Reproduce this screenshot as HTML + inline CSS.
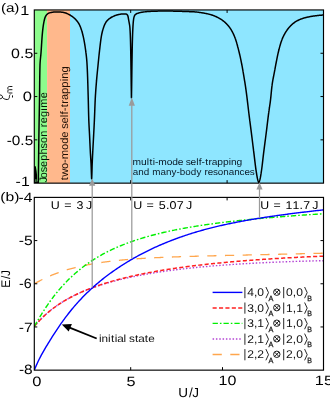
<!DOCTYPE html>
<html><head><meta charset="utf-8"><title>fig</title>
<style>html,body{margin:0;padding:0;background:#fff}svg{display:block;will-change:transform}text{font-family:"Liberation Sans",sans-serif;text-rendering:geometricPrecision}</style></head>
<body>
<svg width="330" height="400" viewBox="0 0 330 400">
<rect width="330" height="400" fill="#fff"/>
<rect x="34.3" y="9.95" width="12.8" height="173.2" fill="#8dfc8d"/>
<rect x="47.1" y="9.95" width="22.9" height="173.2" fill="#ffb88c"/>
<rect x="70" y="9.95" width="253.5" height="173.2" fill="#8ee6ff"/>
<text transform="translate(47,181.8) rotate(-90) scale(1.0087,1)" x="-0.72 3.46 9.36 14.68 20.86 27.13 33.14 38.44 44.6 50.81 54.12 57.99 64.17 70.48 73.37 82.73" font-size="10.8" fill="#061806">Josephson regime</text>
<text transform="translate(67.6,180.3) rotate(-90) scale(1.0395,1)" x="0.08 3.37 10.98 16.75 20.32 29.26 35.12 40.99 46.87 49.61 54.65 60.64 63.3 66.35 70.19 73.66 77.27 83.12 89.09 95.18 97.65 103.61" font-size="10.8" fill="#1e0e04">two-mode self-trapping</text>
<text transform="translate(0,164.7) scale(1.1003,1)" x="120.46 128.2 133.41 135.84 138.79 140.83 143.87 151.52 156.52 161.54 166.58 168.91 173.21 178.34 180.61 183.22 186.5 189.46 192.54 197.54 202.64 207.85 209.96 215.05" font-size="9.3" fill="#081a28">multi-mode self-trapping</text>
<text transform="translate(0,175.4) scale(1.0602,1)" x="125.18 130.33 135.57 140.8 143.55 151.4 156.55 161.87 166.59 169.66 174.81 179.96 185.29 190.08 192.84 196.04 201 205.42 210.56 215.71 220.87 226.02 230.57 235.52" font-size="9.3" fill="#081a28">and many-body resonances</text>
<path d="M34.3,183 L34.3,166.2 L35.8,166.2 L36.6,171 L37.05,175 L37.05,181.5 L38.2,181.5 L38.2,183 Z" fill="#000"/>
<rect x="35.4" y="179.2" width="1.0" height="2.8" fill="#8dfc8d" opacity="0.7"/>
<path d="M38.3,183 L38.31,182.5 L38.31,182 L38.32,181.5 L38.33,181 L38.33,180.5 L38.34,180 L38.35,179.5 L38.35,179 L38.36,178.5 L38.37,178 L38.37,177.5 L38.38,177 L38.39,176.5 L38.39,176 L38.4,175.5 L38.41,175 L38.41,174.5 L38.42,174 L38.43,173.5 L38.43,173 L38.44,172.5 L38.45,172 L38.45,171.5 L38.46,171 L38.47,170.5 L38.47,170 L38.48,169.5 L38.49,169 L38.49,168.5 L38.5,168 L38.5,167.5 L38.51,167 L38.52,166.5 L38.52,166 L38.53,165.5 L38.54,165 L38.54,164.5 L38.55,164 L38.56,163.5 L38.56,163 L38.57,162.5 L38.57,162 L38.58,161.5 L38.59,161 L38.59,160.5 L38.6,160 L38.6,160 L38.61,159.5 L38.61,159 L38.62,158.5 L38.62,158 L38.63,157.5 L38.64,157 L38.64,156.5 L38.65,156 L38.65,155.5 L38.66,155 L38.67,154.5 L38.67,154 L38.68,153.5 L38.68,153 L38.69,152.5 L38.69,152 L38.7,151.5 L38.71,151 L38.71,150.5 L38.72,150 L38.72,149.5 L38.73,149 L38.73,148.5 L38.74,148 L38.75,147.5 L38.75,147 L38.76,146.5 L38.76,146 L38.77,145.5 L38.77,145 L38.78,144.5 L38.79,144 L38.79,143.5 L38.8,143 L38.8,142.5 L38.81,142 L38.82,141.5 L38.82,141 L38.83,140.5 L38.83,140 L38.84,139.5 L38.85,139 L38.85,138.5 L38.86,138 L38.87,137.5 L38.87,137 L38.88,136.5 L38.89,136 L38.89,135.5 L38.9,135 L38.9,135 L38.91,134.5 L38.91,134 L38.92,133.5 L38.93,133 L38.94,132.5 L38.94,132 L38.95,131.5 L38.96,131 L38.97,130.5 L38.97,130 L38.98,129.5 L38.99,129 L39,128.5 L39.01,128 L39.02,127.5 L39.02,127 L39.03,126.5 L39.04,126 L39.05,125.5 L39.06,125.01 L39.07,124.51 L39.08,124.01 L39.08,123.51 L39.09,123.01 L39.1,122.51 L39.11,122.01 L39.12,121.51 L39.13,121.01 L39.14,120.51 L39.15,120.01 L39.16,119.51 L39.17,119.01 L39.17,118.51 L39.18,118.01 L39.19,117.51 L39.2,117.01 L39.21,116.51 L39.22,116.01 L39.23,115.51 L39.24,115.01 L39.25,114.51 L39.26,114.01 L39.27,113.51 L39.28,113.01 L39.28,112.51 L39.29,112.01 L39.3,111.51 L39.31,111.01 L39.32,110.51 L39.33,110.01 L39.34,109.51 L39.35,109.01 L39.36,108.51 L39.37,108.01 L39.37,107.51 L39.38,107.01 L39.39,106.51 L39.4,106.01 L39.41,105.51 L39.42,105.01 L39.43,104.51 L39.43,104.01 L39.44,103.51 L39.45,103.01 L39.46,102.51 L39.47,102.01 L39.48,101.51 L39.48,101.01 L39.49,100.51 L39.5,100.01 L39.5,100 L39.51,99.51 L39.52,99.01 L39.52,98.51 L39.53,98.01 L39.54,97.51 L39.54,97.01 L39.55,96.51 L39.56,96.01 L39.56,95.51 L39.57,95.01 L39.57,94.51 L39.58,94.01 L39.59,93.51 L39.59,93.01 L39.6,92.51 L39.6,92.01 L39.61,91.51 L39.61,91.01 L39.62,90.51 L39.62,90.01 L39.63,89.51 L39.63,89.01 L39.64,88.51 L39.64,88 L39.65,87.5 L39.65,87 L39.66,86.5 L39.66,86 L39.67,85.5 L39.67,85 L39.68,84.5 L39.68,84 L39.69,83.5 L39.69,83 L39.7,82.5 L39.7,82 L39.71,81.5 L39.71,81 L39.72,80.5 L39.73,80 L39.73,79.5 L39.74,79 L39.74,78.5 L39.75,78 L39.76,77.5 L39.76,77 L39.77,76.5 L39.78,76 L39.78,75.5 L39.79,75 L39.8,74.5 L39.81,74 L39.82,73.5 L39.82,73 L39.83,72.5 L39.84,72 L39.85,71.5 L39.86,71 L39.87,70.5 L39.88,70 L39.89,69.51 L39.9,69.01 L39.91,68.51 L39.92,68.01 L39.94,67.51 L39.95,67.01 L39.96,66.51 L39.97,66.01 L39.99,65.51 L40,65.01 L40,65 L40.02,64.51 L40.04,64.01 L40.06,63.52 L40.09,63.02 L40.12,62.52 L40.16,62.02 L40.2,61.52 L40.24,61.02 L40.28,60.53 L40.32,60.03 L40.37,59.53 L40.42,59.03 L40.47,58.53 L40.52,58.04 L40.57,57.54 L40.62,57.04 L40.67,56.54 L40.72,56.04 L40.77,55.55 L40.82,55.05 L40.87,54.55 L40.91,54.05 L40.96,53.55 L41,53.05 L41,53 L41.03,52.56 L41.07,52.06 L41.11,51.56 L41.15,51.06 L41.18,50.56 L41.22,50.06 L41.25,49.56 L41.28,49.06 L41.32,48.56 L41.35,48.06 L41.38,47.56 L41.41,47.06 L41.45,46.56 L41.48,46.07 L41.51,45.57 L41.54,45.07 L41.57,44.57 L41.6,44.07 L41.63,43.57 L41.67,43.07 L41.7,42.57 L41.73,42.07 L41.76,41.57 L41.79,41.07 L41.83,40.57 L41.86,40.07 L41.89,39.57 L41.93,39.07 L41.96,38.57 L42,38.08 L42.04,37.58 L42.07,37.08 L42.11,36.58 L42.15,36.08 L42.19,35.58 L42.23,35.09 L42.28,34.59 L42.32,34.09 L42.36,33.6 L42.41,33.1 L42.46,32.6 L42.51,32.11 L42.56,31.61 L42.6,31.2 L42.61,31.11 L42.66,30.62 L42.72,30.12 L42.77,29.62 L42.83,29.12 L42.89,28.62 L42.95,28.12 L43.01,27.62 L43.08,27.12 L43.15,26.62 L43.22,26.12 L43.29,25.62 L43.36,25.12 L43.44,24.62 L43.52,24.13 L43.61,23.63 L43.7,23.14 L43.79,22.65 L43.88,22.16 L43.98,21.67 L44.08,21.18 L44.19,20.7 L44.3,20.22 L44.41,19.74 L44.53,19.26 L44.6,19 L44.66,18.79 L44.8,18.3 L44.96,17.82 L45.14,17.33 L45.34,16.85 L45.56,16.39 L45.79,15.95 L46.04,15.54 L46.2,15.3 L46.31,15.16 L46.62,14.78 L46.98,14.4 L47.37,14.04 L47.78,13.72 L48.21,13.43 L48.65,13.2 L48.9,13.1 L49.08,13.04 L49.53,12.89 L50,12.75 L50.48,12.62 L50.98,12.5 L51.48,12.4 L51.99,12.31 L52.5,12.23 L53.01,12.17 L53.51,12.12 L53.9,12.1 L54.01,12.1 L54.51,12.08 L55.01,12.06 L55.51,12.04 L56.01,12.03 L56.51,12.02 L57.01,12.01 L57.51,12 L58,12 L58.01,12 L58.51,12 L59.01,12.02 L59.51,12.03 L60.01,12.06 L60.51,12.09 L61.01,12.12 L61.51,12.16 L62,12.2 L62.01,12.2 L62.5,12.25 L63,12.33 L63.49,12.43 L63.98,12.54 L64.47,12.66 L64.95,12.79 L65,12.8 L65.42,12.92 L65.9,13.08 L66.37,13.25 L66.84,13.44 L67.3,13.64 L67.76,13.85 L68.22,14.07 L68.67,14.3 L69.11,14.53 L69.54,14.77 L69.6,14.8 L69.97,15.01 L70.39,15.26 L70.82,15.52 L71.24,15.8 L71.66,16.08 L72.08,16.37 L72.49,16.67 L72.9,16.98 L73.3,17.3 L73.69,17.62 L74.07,17.95 L74.45,18.28 L74.81,18.62 L75.17,18.96 L75.51,19.31 L75.6,19.4 L75.85,19.66 L76.18,20.03 L76.51,20.4 L76.83,20.79 L77.15,21.18 L77.46,21.59 L77.76,22 L78.05,22.42 L78.33,22.84 L78.6,23.27 L78.86,23.7 L79.11,24.13 L79.33,24.57 L79.4,24.7 L79.55,25 L79.76,25.45 L79.96,25.9 L80.15,26.35 L80.35,26.81 L80.53,27.27 L80.71,27.74 L80.89,28.21 L81.06,28.69 L81.22,29.17 L81.38,29.65 L81.54,30.13 L81.69,30.62 L81.83,31.1 L81.98,31.58 L82.11,32.07 L82.25,32.55 L82.38,33.04 L82.5,33.5 L82.5,33.52 L82.63,34 L82.75,34.48 L82.87,34.96 L82.99,35.45 L83.1,35.93 L83.21,36.42 L83.32,36.91 L83.43,37.4 L83.54,37.88 L83.65,38.37 L83.75,38.87 L83.85,39.36 L83.95,39.85 L84.04,40.34 L84.14,40.83 L84.23,41.33 L84.32,41.82 L84.41,42.31 L84.5,42.81 L84.58,43.3 L84.67,43.8 L84.75,44.29 L84.83,44.78 L84.9,45.28 L84.98,45.77 L85.05,46.27 L85.1,46.6 L85.12,46.76 L85.19,47.25 L85.26,47.75 L85.33,48.24 L85.4,48.74 L85.47,49.23 L85.54,49.73 L85.61,50.22 L85.68,50.72 L85.74,51.21 L85.81,51.71 L85.87,52.21 L85.94,52.7 L86,53.2 L86.06,53.7 L86.12,54.19 L86.18,54.69 L86.24,55.19 L86.3,55.69 L86.35,56.18 L86.41,56.68 L86.46,57.18 L86.51,57.68 L86.56,58.18 L86.61,58.67 L86.66,59.17 L86.7,59.67 L86.74,60.17 L86.79,60.67 L86.83,61.17 L86.86,61.66 L86.9,62.16 L86.94,62.66 L86.97,63.16 L87,63.66 L87,63.7 L87.03,64.16 L87.05,64.65 L87.08,65.15 L87.11,65.65 L87.14,66.15 L87.16,66.65 L87.19,67.15 L87.21,67.65 L87.24,68.14 L87.26,68.64 L87.28,69.14 L87.31,69.64 L87.33,70.14 L87.35,70.64 L87.37,71.14 L87.4,71.64 L87.42,72.14 L87.44,72.64 L87.46,73.14 L87.48,73.64 L87.5,74.14 L87.52,74.64 L87.54,75.14 L87.55,75.63 L87.57,76.13 L87.59,76.63 L87.61,77.13 L87.63,77.63 L87.64,78.13 L87.66,78.63 L87.68,79.13 L87.69,79.63 L87.71,80.13 L87.73,80.63 L87.74,81.13 L87.76,81.63 L87.77,82.13 L87.79,82.63 L87.8,83.13 L87.82,83.64 L87.83,84.14 L87.85,84.64 L87.86,85.14 L87.88,85.64 L87.89,86.14 L87.91,86.64 L87.92,87.14 L87.94,87.64 L87.95,88.14 L87.96,88.64 L87.98,89.14 L87.99,89.64 L88.01,90.14 L88.02,90.64 L88.04,91.14 L88.05,91.64 L88.07,92.14 L88.08,92.64 L88.09,93.14 L88.11,93.64 L88.12,94.14 L88.14,94.64 L88.15,95 L88.15,95.14 L88.17,95.64 L88.18,96.14 L88.2,96.64 L88.21,97.14 L88.23,97.63 L88.24,98.13 L88.25,98.63 L88.26,99.13 L88.28,99.63 L88.29,100.13 L88.3,100.63 L88.31,101.13 L88.33,101.63 L88.34,102.13 L88.35,102.63 L88.36,103.13 L88.37,103.63 L88.38,104.13 L88.4,104.63 L88.41,105.13 L88.42,105.63 L88.43,106.13 L88.44,106.63 L88.45,107.13 L88.46,107.63 L88.47,108.13 L88.49,108.63 L88.5,109.13 L88.51,109.63 L88.52,110.13 L88.53,110.63 L88.54,111.13 L88.56,111.63 L88.57,112.13 L88.58,112.63 L88.59,113.13 L88.61,113.63 L88.62,114.13 L88.63,114.63 L88.65,115.13 L88.66,115.63 L88.68,116.13 L88.69,116.63 L88.71,117.13 L88.72,117.63 L88.74,118.13 L88.75,118.63 L88.77,119.13 L88.79,119.63 L88.8,120 L88.8,120.13 L88.82,120.63 L88.84,121.13 L88.86,121.63 L88.88,122.13 L88.9,122.63 L88.93,123.12 L88.95,123.62 L88.97,124.12 L89,124.62 L89.02,125.12 L89.05,125.62 L89.07,126.12 L89.1,126.62 L89.13,127.12 L89.15,127.62 L89.18,128.12 L89.21,128.62 L89.23,129.12 L89.26,129.62 L89.29,130.12 L89.32,130.61 L89.34,131.11 L89.37,131.61 L89.4,132.11 L89.43,132.61 L89.45,133.11 L89.48,133.61 L89.5,134.11 L89.53,134.61 L89.56,135.11 L89.58,135.61 L89.6,136 L89.61,136.11 L89.63,136.61 L89.65,137.11 L89.68,137.61 L89.7,138.11 L89.72,138.6 L89.75,139.1 L89.77,139.6 L89.79,140.1 L89.81,140.6 L89.84,141.1 L89.86,141.6 L89.88,142.1 L89.9,142.6 L89.93,143.1 L89.95,143.6 L89.97,144.1 L90,144.6 L90.02,145.1 L90.04,145.6 L90.06,146.1 L90.09,146.6 L90.11,147.1 L90.13,147.6 L90.16,148.09 L90.18,148.59 L90.2,149.09 L90.23,149.59 L90.25,150.09 L90.28,150.59 L90.3,151.09 L90.33,151.59 L90.35,152 L90.35,152.09 L90.38,152.59 L90.41,153.09 L90.44,153.59 L90.47,154.09 L90.5,154.59 L90.53,155.09 L90.56,155.58 L90.59,156.08 L90.62,156.58 L90.65,157.08 L90.68,157.58 L90.71,158.08 L90.74,158.58 L90.78,159.08 L90.81,159.58 L90.84,160.08 L90.87,160.57 L90.9,161.07 L90.93,161.57 L90.95,162.07 L90.98,162.57 L91.01,163.07 L91.03,163.57 L91.06,164.07 L91.08,164.57 L91.1,165 L91.1,165.07 L91.12,165.57 L91.14,166.07 L91.16,166.57 L91.18,167.07 L91.2,167.57 L91.21,168.07 L91.23,168.57 L91.25,169.07 L91.26,169.57 L91.28,170.07 L91.29,170.57 L91.31,171.06 L91.32,171.56 L91.34,172.06 L91.36,172.56 L91.37,173.06 L91.39,173.56 L91.41,174.06 L91.43,174.56 L91.45,175 L91.45,175.06 L91.48,175.63 L91.5,176.27 L91.53,176.94 L91.55,177.57 L91.58,178.12 L91.61,178.54 L91.64,178.77 L91.65,178.8 L91.66,178.77 L91.69,178.53 L91.72,178.11 L91.75,177.55 L91.78,176.92 L91.8,176.26 L91.83,175.62 L91.85,175.05 L91.85,175 L91.87,174.55 L91.89,174.05 L91.9,173.55 L91.92,173.05 L91.93,172.55 L91.95,172.05 L91.96,171.55 L91.98,171.05 L91.99,170.55 L92,170.05 L92.02,169.55 L92.03,169.05 L92.04,168.55 L92.06,168.05 L92.07,167.55 L92.08,167.05 L92.1,166.55 L92.11,166.05 L92.13,165.55 L92.15,165.05 L92.15,165 L92.17,164.55 L92.19,164.05 L92.2,163.55 L92.22,163.05 L92.25,162.55 L92.27,162.06 L92.29,161.56 L92.31,161.06 L92.33,160.56 L92.36,160.06 L92.38,159.56 L92.4,159.06 L92.43,158.56 L92.45,158.06 L92.47,157.56 L92.5,157.06 L92.52,156.56 L92.55,156.06 L92.57,155.56 L92.6,155.06 L92.62,154.56 L92.65,154.06 L92.67,153.56 L92.7,153.07 L92.72,152.57 L92.75,152.07 L92.75,152 L92.77,151.57 L92.8,151.07 L92.82,150.57 L92.85,150.07 L92.87,149.57 L92.9,149.07 L92.92,148.57 L92.95,148.07 L92.98,147.57 L93,147.07 L93.03,146.57 L93.06,146.07 L93.08,145.58 L93.11,145.08 L93.14,144.58 L93.17,144.08 L93.19,143.58 L93.22,143.08 L93.25,142.58 L93.28,142.08 L93.3,141.58 L93.33,141.08 L93.36,140.58 L93.38,140.08 L93.41,139.58 L93.44,139.08 L93.46,138.59 L93.49,138.09 L93.52,137.59 L93.54,137.09 L93.57,136.59 L93.6,136.09 L93.6,136 L93.62,135.59 L93.65,135.09 L93.67,134.59 L93.7,134.09 L93.72,133.59 L93.75,133.09 L93.78,132.59 L93.8,132.09 L93.83,131.59 L93.85,131.1 L93.88,130.6 L93.91,130.1 L93.93,129.6 L93.96,129.1 L93.98,128.6 L94.01,128.1 L94.03,127.6 L94.06,127.1 L94.08,126.6 L94.11,126.1 L94.13,125.6 L94.16,125.1 L94.18,124.6 L94.21,124.1 L94.23,123.61 L94.26,123.11 L94.28,122.61 L94.3,122.11 L94.33,121.61 L94.35,121.11 L94.37,120.61 L94.4,120.11 L94.4,120 L94.42,119.61 L94.44,119.11 L94.46,118.61 L94.48,118.11 L94.5,117.61 L94.52,117.11 L94.54,116.61 L94.56,116.11 L94.58,115.61 L94.6,115.11 L94.62,114.61 L94.64,114.11 L94.66,113.61 L94.68,113.11 L94.7,112.61 L94.72,112.11 L94.73,111.62 L94.75,111.12 L94.77,110.62 L94.79,110.12 L94.81,109.62 L94.83,109.12 L94.84,108.62 L94.86,108.12 L94.88,107.62 L94.9,107.12 L94.92,106.62 L94.94,106.12 L94.96,105.62 L94.98,105.12 L95,104.62 L95.02,104.12 L95.04,103.62 L95.06,103.12 L95.08,102.62 L95.1,102.12 L95.12,101.62 L95.15,101.12 L95.17,100.62 L95.19,100.12 L95.22,99.62 L95.24,99.13 L95.27,98.63 L95.29,98.13 L95.3,98 L95.32,97.63 L95.35,97.13 L95.38,96.63 L95.4,96.13 L95.43,95.63 L95.46,95.13 L95.49,94.63 L95.53,94.13 L95.56,93.64 L95.59,93.14 L95.62,92.64 L95.66,92.14 L95.69,91.64 L95.73,91.14 L95.76,90.64 L95.8,90.14 L95.83,89.65 L95.87,89.15 L95.91,88.65 L95.95,88.15 L95.98,87.65 L96.02,87.15 L96.06,86.65 L96.1,86.15 L96.14,85.66 L96.18,85.16 L96.22,84.66 L96.26,84.16 L96.3,83.66 L96.34,83.16 L96.38,82.67 L96.42,82.17 L96.46,81.67 L96.5,81.17 L96.54,80.67 L96.59,80.17 L96.6,80 L96.63,79.68 L96.67,79.18 L96.71,78.68 L96.76,78.18 L96.8,77.68 L96.85,77.19 L96.89,76.69 L96.94,76.19 L96.98,75.69 L97.03,75.19 L97.08,74.7 L97.13,74.2 L97.18,73.7 L97.22,73.2 L97.27,72.71 L97.32,72.21 L97.37,71.71 L97.42,71.21 L97.47,70.72 L97.52,70.22 L97.57,69.72 L97.62,69.22 L97.67,68.73 L97.72,68.23 L97.77,67.73 L97.83,67.23 L97.88,66.74 L97.93,66.24 L97.98,65.74 L98.03,65.24 L98.05,65 L98.08,64.75 L98.12,64.25 L98.17,63.75 L98.22,63.25 L98.27,62.76 L98.32,62.26 L98.37,61.76 L98.42,61.26 L98.47,60.76 L98.52,60.27 L98.57,59.77 L98.62,59.27 L98.67,58.77 L98.72,58.28 L98.77,57.78 L98.82,57.28 L98.87,56.78 L98.92,56.29 L98.97,55.79 L99.02,55.29 L99.07,54.79 L99.12,54.3 L99.18,53.8 L99.23,53.3 L99.28,52.81 L99.34,52.31 L99.39,51.81 L99.45,51.32 L99.51,50.82 L99.56,50.32 L99.6,50 L99.62,49.83 L99.68,49.33 L99.73,48.83 L99.79,48.33 L99.85,47.84 L99.9,47.34 L99.96,46.84 L100.02,46.34 L100.08,45.85 L100.13,45.35 L100.19,44.85 L100.25,44.35 L100.31,43.86 L100.37,43.36 L100.43,42.86 L100.49,42.36 L100.56,41.87 L100.62,41.37 L100.69,40.87 L100.75,40.38 L100.82,39.88 L100.89,39.39 L100.96,38.89 L101.04,38.4 L101.11,37.91 L101.19,37.41 L101.27,36.92 L101.35,36.43 L101.44,35.94 L101.52,35.45 L101.55,35.3 L101.61,34.96 L101.71,34.47 L101.81,33.98 L101.91,33.49 L102.02,33 L102.13,32.51 L102.25,32.02 L102.37,31.53 L102.5,31.05 L102.63,30.56 L102.76,30.08 L102.9,29.6 L103.05,29.12 L103.19,28.64 L103.34,28.17 L103.5,27.7 L103.5,27.7 L103.66,27.23 L103.83,26.75 L104.01,26.28 L104.19,25.8 L104.38,25.32 L104.58,24.85 L104.79,24.38 L105.01,23.92 L105.24,23.47 L105.47,23.03 L105.72,22.6 L105.97,22.19 L106.24,21.79 L106.3,21.7 L106.51,21.41 L106.82,21.03 L107.14,20.66 L107.49,20.3 L107.85,19.94 L108.23,19.59 L108.62,19.25 L109.02,18.92 L109.43,18.61 L109.85,18.31 L110.27,18.02 L110.69,17.75 L111.1,17.5 L111.1,17.5 L111.52,17.26 L111.95,17.03 L112.39,16.8 L112.84,16.57 L113.3,16.36 L113.76,16.15 L114.23,15.95 L114.7,15.76 L115.17,15.57 L115.65,15.4 L116.13,15.24 L116.62,15.09 L117.1,14.95 L117.58,14.83 L117.7,14.8 L118.06,14.71 L118.54,14.6 L119.03,14.48 L119.52,14.37 L120.01,14.26 L120.51,14.16 L121,14.08 L121.5,14 L122,13.95 L122.5,13.91 L122.99,13.9 L123,13.9 L123.5,13.9 L124.02,13.9 L124.54,13.9 L125.04,13.9 L125.52,13.9 L125.8,13.9 L125.97,13.92 L126.44,14.1 L126.89,14.43 L127.28,14.83 L127.57,15.24 L127.6,15.3 L127.74,15.62 L127.9,16.04 L128.03,16.5 L128.14,16.99 L128.25,17.49 L128.34,18.02 L128.43,18.54 L128.51,19.07 L128.59,19.59 L128.68,20.09 L128.7,20.2 L128.77,20.59 L128.87,21.08 L128.96,21.57 L129.06,22.06 L129.15,22.55 L129.25,23.05 L129.34,23.54 L129.42,24.03 L129.51,24.53 L129.59,25.02 L129.66,25.52 L129.73,26.01 L129.79,26.51 L129.84,27 L129.88,27.5 L129.9,27.7 L129.92,27.99 L129.96,28.49 L129.99,28.99 L130.02,29.49 L130.05,29.98 L130.08,30.48 L130.11,30.98 L130.14,31.48 L130.16,31.98 L130.19,32.48 L130.21,32.98 L130.24,33.48 L130.26,33.98 L130.28,34.48 L130.3,34.98 L130.32,35.48 L130.34,35.98 L130.36,36.48 L130.37,36.98 L130.39,37.48 L130.41,37.98 L130.42,38.48 L130.44,38.98 L130.46,39.48 L130.47,39.98 L130.48,40.48 L130.5,40.98 L130.51,41.48 L130.53,41.98 L130.54,42.48 L130.55,42.9 L130.55,42.98 L130.56,43.48 L130.58,43.98 L130.59,44.48 L130.6,44.98 L130.61,45.48 L130.62,45.98 L130.64,46.48 L130.65,46.98 L130.66,47.48 L130.67,47.98 L130.68,48.48 L130.69,48.98 L130.7,49.48 L130.71,49.98 L130.72,50.48 L130.73,50.98 L130.74,51.48 L130.74,51.98 L130.75,52.48 L130.76,52.98 L130.77,53.48 L130.78,53.98 L130.79,54.48 L130.8,54.98 L130.8,55.48 L130.81,55.98 L130.82,56.48 L130.83,56.98 L130.83,57.48 L130.84,57.98 L130.85,58.48 L130.86,58.98 L130.87,59.48 L130.87,59.98 L130.88,60.48 L130.89,60.98 L130.9,61.48 L130.9,61.98 L130.91,62.48 L130.92,62.98 L130.93,63.48 L130.93,63.98 L130.94,64.48 L130.95,64.98 L130.95,65 L130.96,65.48 L130.97,65.98 L130.97,66.48 L130.98,66.98 L130.99,67.48 L131,67.98 L131,68.48 L131.01,68.98 L131.02,69.48 L131.02,69.98 L131.03,70.48 L131.04,70.98 L131.04,71.48 L131.05,71.98 L131.06,72.48 L131.06,72.98 L131.07,73.48 L131.08,73.98 L131.08,74.48 L131.09,74.98 L131.1,75.48 L131.1,75.98 L131.11,76.48 L131.12,76.98 L131.12,77.48 L131.13,77.98 L131.14,78.48 L131.14,78.98 L131.15,79.48 L131.15,79.98 L131.16,80.48 L131.17,80.98 L131.17,81.48 L131.18,81.98 L131.19,82.48 L131.19,82.98 L131.2,83.48 L131.21,83.98 L131.22,84.48 L131.22,84.98 L131.23,85.48 L131.24,85.98 L131.24,86.48 L131.25,86.98 L131.26,87.48 L131.27,87.98 L131.28,88.48 L131.28,88.98 L131.29,89.48 L131.3,89.98 L131.3,90 L131.31,90.5 L131.32,91.08 L131.33,91.7 L131.34,92.35 L131.34,93.01 L131.35,93.68 L131.36,94.34 L131.37,94.97 L131.38,95.57 L131.39,96.13 L131.4,96.62 L131.41,97.05 L131.42,97.39 L131.43,97.64 L131.44,97.77 L131.45,97.8 L131.45,97.79 L131.46,97.69 L131.47,97.47 L131.48,97.16 L131.49,96.76 L131.5,96.28 L131.51,95.74 L131.52,95.15 L131.53,94.53 L131.54,93.88 L131.55,93.21 L131.56,92.55 L131.57,91.89 L131.58,91.26 L131.59,90.67 L131.6,90.13 L131.6,90 L131.61,89.63 L131.61,89.13 L131.62,88.63 L131.63,88.13 L131.64,87.63 L131.65,87.13 L131.65,86.63 L131.66,86.13 L131.67,85.63 L131.68,85.13 L131.68,84.63 L131.69,84.13 L131.7,83.63 L131.7,83.13 L131.71,82.63 L131.72,82.13 L131.72,81.63 L131.73,81.13 L131.74,80.63 L131.74,80.13 L131.75,79.63 L131.76,79.13 L131.76,78.63 L131.77,78.13 L131.78,77.63 L131.78,77.13 L131.79,76.63 L131.8,76.13 L131.8,75.63 L131.81,75.13 L131.81,74.63 L131.82,74.13 L131.83,73.63 L131.83,73.13 L131.84,72.63 L131.85,72.13 L131.85,71.63 L131.86,71.13 L131.87,70.63 L131.87,70.13 L131.88,69.63 L131.89,69.13 L131.9,68.63 L131.9,68.13 L131.91,67.63 L131.92,67.13 L131.92,66.63 L131.93,66.13 L131.94,65.63 L131.95,65.13 L131.95,65 L131.96,64.63 L131.96,64.13 L131.97,63.63 L131.98,63.13 L131.99,62.63 L131.99,62.13 L132,61.63 L132.01,61.13 L132.02,60.63 L132.03,60.13 L132.03,59.63 L132.04,59.13 L132.05,58.63 L132.06,58.13 L132.07,57.63 L132.07,57.13 L132.08,56.63 L132.09,56.13 L132.1,55.63 L132.11,55.13 L132.11,54.63 L132.12,54.13 L132.13,53.63 L132.14,53.13 L132.15,52.63 L132.16,52.13 L132.17,51.63 L132.18,51.13 L132.18,50.63 L132.19,50.13 L132.2,49.63 L132.21,49.13 L132.22,48.63 L132.23,48.13 L132.24,47.63 L132.25,47.13 L132.26,46.63 L132.28,46.13 L132.29,45.63 L132.3,45.13 L132.31,44.63 L132.32,44.13 L132.33,43.63 L132.34,43.13 L132.35,42.9 L132.36,42.63 L132.37,42.13 L132.38,41.63 L132.39,41.13 L132.41,40.63 L132.42,40.13 L132.44,39.63 L132.45,39.13 L132.46,38.63 L132.48,38.13 L132.49,37.63 L132.51,37.13 L132.53,36.63 L132.54,36.13 L132.56,35.63 L132.58,35.13 L132.59,34.63 L132.61,34.13 L132.63,33.63 L132.65,33.13 L132.67,32.63 L132.69,32.13 L132.71,31.64 L132.73,31.14 L132.76,30.64 L132.78,30.14 L132.8,29.64 L132.83,29.14 L132.85,28.64 L132.88,28.14 L132.9,27.7 L132.9,27.64 L132.93,27.14 L132.96,26.64 L132.99,26.14 L133.01,25.64 L133.05,25.13 L133.08,24.63 L133.11,24.13 L133.15,23.62 L133.19,23.12 L133.23,22.62 L133.27,22.12 L133.32,21.62 L133.37,21.12 L133.43,20.63 L133.49,20.13 L133.55,19.64 L133.62,19.16 L133.69,18.67 L133.7,18.6 L133.77,18.18 L133.89,17.67 L134.03,17.14 L134.19,16.62 L134.37,16.12 L134.58,15.66 L134.8,15.24 L135.04,14.88 L135.1,14.8 L135.31,14.58 L135.66,14.29 L136.07,14.03 L136.52,13.78 L137.02,13.56 L137.53,13.35 L138.04,13.17 L138.54,13 L138.9,12.9 L139.02,12.87 L139.49,12.74 L139.97,12.63 L140.45,12.52 L140.94,12.41 L141.44,12.32 L141.93,12.23 L142.43,12.14 L142.93,12.07 L143.43,11.99 L143.93,11.93 L144.43,11.87 L144.93,11.81 L145,11.8 L145.42,11.75 L145.92,11.7 L146.42,11.66 L146.92,11.61 L147.41,11.57 L147.91,11.53 L148.41,11.49 L148.91,11.46 L149.41,11.43 L149.91,11.4 L150,11.4 L150.41,11.38 L150.91,11.36 L151.41,11.34 L151.91,11.31 L152.41,11.29 L152.91,11.27 L153.41,11.25 L153.91,11.23 L154.41,11.21 L154.91,11.2 L155.41,11.18 L155.91,11.16 L156.41,11.15 L156.91,11.14 L157.41,11.13 L157.91,11.12 L158.41,11.11 L158.91,11.11 L159.41,11.1 L159.91,11.1 L160,11.1 L160.41,11.1 L160.91,11.1 L161.41,11.1 L161.91,11.1 L162.41,11.1 L162.91,11.1 L163.41,11.1 L163.91,11.1 L164.41,11.1 L164.91,11.1 L165.41,11.1 L165.91,11.1 L166.41,11.1 L166.91,11.1 L167.41,11.1 L167.91,11.1 L168.41,11.1 L168.91,11.1 L169.41,11.1 L169.91,11.1 L170,11.1 L170.41,11.1 L170.91,11.1 L171.41,11.1 L171.91,11.11 L172.41,11.11 L172.91,11.12 L173.41,11.13 L173.91,11.13 L174.41,11.14 L174.91,11.15 L175.41,11.16 L175.9,11.17 L176.4,11.19 L176.9,11.2 L177.4,11.21 L177.9,11.23 L178.4,11.24 L178.9,11.26 L179.4,11.27 L179.9,11.29 L180.4,11.31 L180.9,11.32 L181.4,11.34 L181.9,11.36 L182.4,11.38 L182.9,11.39 L183.4,11.41 L183.9,11.43 L184.4,11.45 L184.9,11.47 L185.4,11.49 L185.9,11.5 L186.4,11.52 L186.9,11.54 L187.4,11.56 L187.9,11.58 L188.4,11.6 L188.5,11.6 L188.9,11.61 L189.4,11.63 L189.9,11.65 L190.4,11.67 L190.9,11.69 L191.4,11.71 L191.9,11.73 L192.4,11.75 L192.9,11.78 L193.4,11.8 L193.9,11.83 L194.39,11.86 L194.89,11.89 L195,11.9 L195.39,11.93 L195.89,11.97 L196.39,12.02 L196.88,12.07 L197.38,12.13 L197.88,12.19 L198.37,12.25 L198.87,12.32 L199.36,12.39 L199.86,12.46 L200.36,12.54 L200.85,12.62 L201.34,12.7 L201.84,12.78 L202.33,12.86 L202.6,12.9 L202.82,12.94 L203.32,13.02 L203.81,13.1 L204.3,13.19 L204.8,13.28 L205.29,13.37 L205.78,13.47 L206.27,13.57 L206.77,13.67 L207.26,13.78 L207.74,13.89 L208.23,14 L208.72,14.12 L209.2,14.24 L209.68,14.36 L210.16,14.49 L210.2,14.5 L210.64,14.62 L211.12,14.77 L211.6,14.92 L212.07,15.07 L212.55,15.24 L213.02,15.41 L213.49,15.58 L213.96,15.77 L214.43,15.95 L214.9,16.15 L215.36,16.35 L215.81,16.55 L216.27,16.75 L216.72,16.96 L217,17.1 L217.16,17.18 L217.6,17.4 L218.05,17.63 L218.49,17.86 L218.93,18.1 L219.37,18.35 L219.81,18.61 L220.25,18.87 L220.68,19.13 L221.11,19.41 L221.53,19.69 L221.95,19.97 L222.36,20.26 L222.77,20.55 L223.17,20.85 L223.57,21.15 L223.95,21.46 L224.33,21.77 L224.6,22 L224.7,22.09 L225.07,22.41 L225.43,22.74 L225.79,23.08 L226.15,23.43 L226.5,23.79 L226.85,24.15 L227.2,24.53 L227.54,24.9 L227.88,25.29 L228.21,25.67 L228.53,26.07 L228.85,26.46 L229.16,26.86 L229.47,27.27 L229.76,27.67 L230.05,28.08 L230.33,28.49 L230.61,28.9 L230.8,29.2 L230.87,29.31 L231.13,29.73 L231.38,30.15 L231.63,30.58 L231.88,31.01 L232.12,31.45 L232.36,31.89 L232.59,32.33 L232.82,32.78 L233.04,33.23 L233.26,33.69 L233.48,34.15 L233.69,34.61 L233.9,35.07 L234.1,35.53 L234.3,36 L234.49,36.46 L234.68,36.93 L234.86,37.4 L235.04,37.86 L235.2,38.3 L235.21,38.33 L235.38,38.79 L235.54,39.26 L235.7,39.73 L235.86,40.2 L236.02,40.68 L236.17,41.15 L236.31,41.63 L236.46,42.11 L236.6,42.59 L236.74,43.07 L236.88,43.55 L237.01,44.04 L237.15,44.52 L237.28,45.01 L237.41,45.49 L237.54,45.98 L237.67,46.46 L237.79,46.95 L237.92,47.43 L238.05,47.92 L238.17,48.4 L238.3,48.88 L238.3,48.9 L238.42,49.37 L238.54,49.85 L238.67,50.34 L238.79,50.82 L238.91,51.31 L239.03,51.79 L239.15,52.28 L239.27,52.76 L239.38,53.25 L239.5,53.74 L239.61,54.22 L239.73,54.71 L239.84,55.2 L239.95,55.69 L240.06,56.17 L240.17,56.66 L240.28,57.15 L240.39,57.64 L240.49,58.13 L240.6,58.62 L240.7,59.11 L240.81,59.59 L240.91,60.08 L241.01,60.57 L241.1,61 L241.11,61.06 L241.21,61.55 L241.31,62.04 L241.41,62.53 L241.5,63.02 L241.6,63.51 L241.69,64 L241.79,64.5 L241.88,64.99 L241.97,65.48 L242.07,65.97 L242.16,66.46 L242.25,66.95 L242.34,67.45 L242.43,67.94 L242.51,68.43 L242.6,68.92 L242.69,69.41 L242.78,69.91 L242.86,70.4 L242.95,70.89 L243.03,71.39 L243.12,71.88 L243.2,72.37 L243.29,72.86 L243.37,73.36 L243.45,73.85 L243.54,74.34 L243.62,74.84 L243.7,75.3 L243.7,75.33 L243.79,75.82 L243.87,76.32 L243.95,76.81 L244.04,77.3 L244.12,77.79 L244.2,78.29 L244.28,78.78 L244.36,79.28 L244.44,79.77 L244.52,80.26 L244.6,80.76 L244.68,81.25 L244.76,81.74 L244.84,82.24 L244.91,82.73 L244.99,83.23 L245.07,83.72 L245.14,84.21 L245.22,84.71 L245.3,85.2 L245.37,85.7 L245.45,86.19 L245.52,86.69 L245.59,87.18 L245.67,87.67 L245.74,88.17 L245.8,88.6 L245.81,88.66 L245.88,89.16 L245.95,89.65 L246.02,90.15 L246.09,90.64 L246.16,91.14 L246.23,91.64 L246.29,92.13 L246.36,92.63 L246.43,93.12 L246.49,93.62 L246.56,94.11 L246.62,94.61 L246.68,95.11 L246.75,95.6 L246.8,96 L246.81,96.1 L246.88,96.59 L246.94,97.09 L247,97.59 L247.06,98.08 L247.12,98.58 L247.18,99.07 L247.24,99.57 L247.3,100.07 L247.36,100.56 L247.42,101.06 L247.48,101.56 L247.54,102.05 L247.6,102.55 L247.66,103.05 L247.72,103.54 L247.77,104.04 L247.83,104.54 L247.89,105.03 L247.95,105.53 L248.01,106.03 L248.06,106.52 L248.12,107.02 L248.18,107.52 L248.24,108.01 L248.29,108.51 L248.35,109.01 L248.41,109.5 L248.47,110 L248.53,110.5 L248.59,110.99 L248.65,111.49 L248.71,111.98 L248.77,112.48 L248.83,112.98 L248.89,113.47 L248.95,113.97 L249,114.4 L249.01,114.47 L249.07,114.96 L249.13,115.46 L249.19,115.95 L249.26,116.45 L249.32,116.95 L249.38,117.44 L249.45,117.94 L249.51,118.43 L249.57,118.93 L249.64,119.43 L249.7,119.92 L249.76,120.42 L249.83,120.91 L249.89,121.41 L249.96,121.91 L250.02,122.4 L250.09,122.9 L250.15,123.39 L250.22,123.89 L250.28,124.38 L250.35,124.88 L250.41,125.38 L250.48,125.87 L250.54,126.37 L250.61,126.86 L250.67,127.36 L250.74,127.86 L250.8,128.35 L250.86,128.85 L250.93,129.34 L250.99,129.84 L251.06,130.33 L251.12,130.83 L251.18,131.33 L251.25,131.82 L251.31,132.32 L251.38,132.81 L251.44,133.31 L251.5,133.8 L251.5,133.81 L251.56,134.3 L251.63,134.8 L251.69,135.29 L251.75,135.79 L251.81,136.29 L251.87,136.78 L251.94,137.28 L252,137.78 L252.06,138.27 L252.12,138.77 L252.18,139.26 L252.24,139.76 L252.3,140.26 L252.36,140.75 L252.42,141.25 L252.49,141.75 L252.55,142.24 L252.61,142.74 L252.67,143.23 L252.73,143.73 L252.79,144.23 L252.85,144.72 L252.91,145.22 L252.97,145.72 L253.03,146.21 L253.09,146.71 L253.15,147.2 L253.22,147.7 L253.28,148.2 L253.34,148.69 L253.4,149.19 L253.46,149.69 L253.52,150.18 L253.58,150.68 L253.65,151.17 L253.71,151.67 L253.77,152.17 L253.83,152.66 L253.89,153.16 L253.9,153.2 L253.96,153.65 L254.02,154.15 L254.08,154.65 L254.14,155.14 L254.2,155.64 L254.26,156.14 L254.32,156.63 L254.38,157.13 L254.44,157.63 L254.5,158.12 L254.56,158.62 L254.62,159.12 L254.68,159.61 L254.74,160.11 L254.8,160.61 L254.86,161.1 L254.92,161.6 L254.98,162.1 L255.04,162.59 L255.1,163.09 L255.16,163.59 L255.22,164.08 L255.28,164.58 L255.34,165.08 L255.41,165.57 L255.47,166.07 L255.54,166.56 L255.6,167.06 L255.67,167.55 L255.73,168.05 L255.8,168.55 L255.87,169.04 L255.94,169.54 L256.01,170.03 L256.08,170.52 L256.16,171.02 L256.23,171.51 L256.31,172.01 L256.38,172.5 L256.4,172.6 L256.46,172.99 L256.54,173.49 L256.62,173.98 L256.69,174.48 L256.77,174.98 L256.85,175.48 L256.93,175.97 L257.02,176.47 L257.11,176.96 L257.2,177.45 L257.3,177.94 L257.41,178.43 L257.52,178.92 L257.64,179.4 L257.76,179.87 L257.8,180 L257.91,180.39 L258.09,180.99 L258.29,181.58 L258.5,182.08 L258.71,182.36 L258.8,182.4 L258.91,182.35 L259.11,182.05 L259.32,181.55 L259.53,180.95 L259.7,180.35 L259.8,180 L259.84,179.84 L259.97,179.36 L260.09,178.88 L260.2,178.4 L260.31,177.91 L260.4,177.42 L260.5,176.93 L260.59,176.44 L260.68,175.94 L260.76,175.44 L260.84,174.95 L260.92,174.45 L260.99,173.95 L261.07,173.46 L261.14,172.96 L261.2,172.6 L261.22,172.47 L261.3,171.97 L261.37,171.48 L261.44,170.98 L261.51,170.49 L261.58,170 L261.65,169.5 L261.72,169.01 L261.78,168.51 L261.85,168.01 L261.91,167.52 L261.97,167.02 L262.04,166.53 L262.1,166.03 L262.16,165.53 L262.22,165.04 L262.28,164.54 L262.33,164.04 L262.39,163.55 L262.45,163.05 L262.51,162.55 L262.56,162.06 L262.62,161.56 L262.68,161.06 L262.73,160.57 L262.79,160.07 L262.85,159.57 L262.9,159.07 L262.96,158.58 L263.02,158.08 L263.07,157.58 L263.13,157.09 L263.19,156.59 L263.25,156.09 L263.31,155.6 L263.37,155.1 L263.43,154.6 L263.49,154.11 L263.55,153.61 L263.6,153.2 L263.61,153.11 L263.67,152.62 L263.74,152.12 L263.8,151.63 L263.86,151.13 L263.93,150.63 L263.99,150.14 L264.05,149.64 L264.12,149.15 L264.18,148.65 L264.25,148.15 L264.31,147.66 L264.37,147.16 L264.44,146.67 L264.5,146.17 L264.57,145.67 L264.63,145.18 L264.7,144.68 L264.76,144.19 L264.83,143.69 L264.89,143.2 L264.95,142.7 L265.02,142.2 L265.08,141.71 L265.15,141.21 L265.21,140.72 L265.28,140.22 L265.34,139.72 L265.4,139.23 L265.47,138.73 L265.53,138.24 L265.6,137.74 L265.66,137.24 L265.72,136.75 L265.79,136.25 L265.85,135.76 L265.91,135.26 L265.98,134.77 L266.04,134.27 L266.1,133.8 L266.1,133.77 L266.17,133.28 L266.23,132.78 L266.29,132.28 L266.35,131.79 L266.41,131.29 L266.47,130.8 L266.54,130.3 L266.6,129.8 L266.66,129.31 L266.72,128.81 L266.78,128.31 L266.84,127.82 L266.9,127.32 L266.96,126.83 L267.02,126.33 L267.08,125.83 L267.14,125.34 L267.2,124.84 L267.26,124.34 L267.32,123.85 L267.38,123.35 L267.44,122.85 L267.5,122.36 L267.56,121.86 L267.62,121.37 L267.68,120.87 L267.74,120.37 L267.8,119.88 L267.87,119.38 L267.93,118.88 L267.99,118.39 L268.05,117.89 L268.11,117.4 L268.18,116.9 L268.24,116.4 L268.3,115.91 L268.37,115.41 L268.43,114.92 L268.5,114.42 L268.5,114.4 L268.56,113.92 L268.63,113.43 L268.7,112.93 L268.77,112.44 L268.83,111.94 L268.9,111.45 L268.97,110.95 L269.05,110.46 L269.12,109.96 L269.19,109.47 L269.26,108.97 L269.33,108.48 L269.4,107.98 L269.48,107.49 L269.55,106.99 L269.62,106.5 L269.69,106 L269.76,105.51 L269.83,105.01 L269.9,104.52 L269.97,104.02 L270.04,103.53 L270.11,103.03 L270.18,102.54 L270.24,102.04 L270.31,101.55 L270.37,101.05 L270.43,100.55 L270.49,100.06 L270.5,100 L270.55,99.56 L270.61,99.07 L270.67,98.57 L270.72,98.07 L270.77,97.57 L270.83,97.08 L270.88,96.58 L270.93,96.08 L270.98,95.58 L271.03,95.09 L271.07,94.59 L271.12,94.09 L271.17,93.59 L271.22,93.09 L271.27,92.6 L271.31,92.1 L271.36,91.6 L271.41,91.1 L271.46,90.6 L271.51,90.11 L271.56,89.61 L271.61,89.11 L271.67,88.61 L271.72,88.12 L271.78,87.62 L271.83,87.12 L271.89,86.63 L271.95,86.13 L272.02,85.64 L272.08,85.14 L272.1,85 L272.15,84.65 L272.22,84.15 L272.29,83.66 L272.36,83.17 L272.44,82.67 L272.52,82.18 L272.6,81.69 L272.68,81.19 L272.77,80.7 L272.85,80.21 L272.94,79.72 L273.03,79.22 L273.12,78.73 L273.21,78.24 L273.3,77.75 L273.39,77.26 L273.49,76.76 L273.58,76.27 L273.68,75.78 L273.77,75.29 L273.87,74.8 L273.96,74.31 L274.06,73.82 L274.16,73.32 L274.25,72.83 L274.35,72.34 L274.44,71.85 L274.54,71.36 L274.63,70.87 L274.7,70.5 L274.72,70.38 L274.82,69.89 L274.91,69.39 L275,68.9 L275.09,68.41 L275.18,67.92 L275.27,67.43 L275.36,66.93 L275.46,66.44 L275.55,65.95 L275.64,65.46 L275.73,64.97 L275.82,64.47 L275.91,63.98 L276,63.49 L276.1,63 L276.19,62.51 L276.28,62.01 L276.38,61.52 L276.47,61.03 L276.57,60.54 L276.66,60.05 L276.76,59.56 L276.86,59.07 L276.95,58.58 L277.05,58.09 L277.15,57.6 L277.25,57.11 L277.35,56.62 L277.46,56.13 L277.56,55.64 L277.67,55.15 L277.77,54.66 L277.88,54.18 L277.99,53.69 L278.1,53.2 L278.21,52.72 L278.33,52.23 L278.44,51.74 L278.5,51.5 L278.56,51.26 L278.68,50.77 L278.79,50.29 L278.91,49.8 L279.04,49.32 L279.16,48.83 L279.28,48.34 L279.41,47.86 L279.54,47.37 L279.67,46.88 L279.8,46.4 L279.93,45.92 L280.07,45.43 L280.21,44.95 L280.35,44.47 L280.49,43.99 L280.64,43.51 L280.79,43.03 L280.94,42.56 L281.1,42.08 L281.25,41.61 L281.42,41.14 L281.58,40.67 L281.75,40.2 L281.9,39.8 L281.92,39.74 L282.1,39.28 L282.29,38.82 L282.48,38.35 L282.67,37.89 L282.88,37.43 L283.09,36.98 L283.3,36.52 L283.52,36.07 L283.75,35.62 L283.98,35.17 L284.21,34.72 L284.45,34.28 L284.7,33.84 L284.94,33.41 L285.19,32.98 L285.45,32.55 L285.6,32.3 L285.7,32.13 L285.97,31.71 L286.24,31.29 L286.51,30.87 L286.8,30.46 L287.08,30.04 L287.38,29.63 L287.68,29.22 L287.99,28.82 L288.3,28.42 L288.61,28.02 L288.93,27.63 L289.26,27.25 L289.59,26.88 L289.92,26.51 L290.26,26.15 L290.61,25.79 L290.8,25.6 L290.95,25.45 L291.31,25.11 L291.67,24.77 L292.04,24.43 L292.42,24.1 L292.81,23.77 L293.2,23.45 L293.6,23.13 L294,22.82 L294.41,22.52 L294.83,22.23 L295.24,21.95 L295.66,21.67 L296.08,21.41 L296.51,21.16 L296.8,21 L296.94,20.93 L297.37,20.7 L297.81,20.47 L298.25,20.25 L298.7,20.03 L299.16,19.82 L299.62,19.62 L300.08,19.42 L300.55,19.22 L301.02,19.03 L301.5,18.85 L301.97,18.68 L302.45,18.51 L302.92,18.35 L303.4,18.2 L303.88,18.05 L304.35,17.91 L304.4,17.9 L304.83,17.78 L305.31,17.66 L305.79,17.53 L306.28,17.42 L306.77,17.3 L307.25,17.19 L307.74,17.09 L308.24,16.98 L308.73,16.89 L309.22,16.79 L309.71,16.7 L310.21,16.61 L310.7,16.52 L311.2,16.43 L311.69,16.35 L312,16.3 L312.18,16.27 L312.68,16.19 L313.17,16.11 L313.66,16.04 L314.16,15.97 L314.65,15.9 L315.15,15.83 L315.65,15.77 L316.14,15.7 L316.64,15.64 L317.14,15.58 L317.63,15.53 L317.9,15.5 L318.13,15.48 L318.63,15.42 L319.12,15.37 L319.62,15.32 L320.12,15.28 L320.62,15.23 L321.12,15.19 L321.61,15.15 L322.11,15.11 L322.61,15.07 L323.11,15.03 L323.6,15" stroke="#000" stroke-width="1.5" fill="none" stroke-linejoin="round"/>
<clipPath id="c2"><rect x="34.3" y="197.4" width="289.2" height="172.75"/></clipPath><g clip-path="url(#c2)">
<path d="M34.3,283.82 L35.3,283.25 L36.3,282.69 L37.3,282.14 L38.3,281.59 L39.3,281.06 L40.3,280.53 L41.3,280.01 L42.3,279.51 L43.3,279.01 L44.3,278.52 L45.3,278.05 L46.3,277.58 L47.3,277.12 L48.3,276.67 L49.3,276.23 L50.3,275.8 L51.3,275.38 L52.3,274.97 L53.3,274.56 L54.3,274.17 L55.3,273.78 L56.3,273.4 L57.3,273.03 L58.3,272.67 L59.3,272.32 L60.3,271.97 L61.3,271.63 L62.3,271.3 L63.3,270.97 L64.3,270.65 L65.3,270.34 L66.3,270.03 L67.3,269.74 L68.3,269.44 L69.3,269.16 L70.3,268.87 L71.3,268.6 L72.3,268.33 L73.3,268.07 L74.3,267.81 L75.3,267.55 L76.3,267.31 L77.3,267.06 L78.3,266.83 L79.3,266.59 L80.3,266.36 L81.3,266.14 L82.3,265.92 L83.3,265.71 L84.3,265.5 L85.3,265.29 L86.3,265.09 L87.3,264.89 L88.3,264.7 L89.3,264.51 L90.3,264.32 L91.3,264.14 L92.3,263.96 L93.3,263.78 L94.3,263.61 L95.3,263.44 L96.3,263.28 L97.3,263.11 L98.3,262.96 L99.3,262.8 L100.3,262.65 L101.3,262.5 L102.3,262.35 L103.3,262.21 L104.3,262.07 L105.3,261.93 L106.3,261.8 L107.3,261.67 L108.3,261.54 L109.3,261.41 L110.3,261.29 L111.3,261.16 L112.3,261.05 L113.3,260.93 L114.3,260.81 L115.3,260.7 L116.3,260.59 L117.3,260.49 L118.3,260.38 L119.3,260.28 L120.3,260.18 L121.3,260.08 L122.3,259.98 L123.3,259.89 L124.3,259.79 L125.3,259.7 L126.3,259.61 L127.3,259.53 L128.3,259.44 L129.3,259.36 L130.3,259.28 L131.3,259.2 L132.3,259.12 L133.3,259.05 L134.3,258.97 L135.3,258.9 L136.3,258.83 L137.3,258.76 L138.3,258.69 L139.3,258.62 L140.3,258.56 L141.3,258.5 L142.3,258.43 L143.3,258.37 L144.3,258.31 L145.3,258.25 L146.3,258.19 L147.3,258.14 L148.3,258.08 L149.3,258.03 L150.3,257.97 L151.3,257.92 L152.3,257.87 L153.3,257.82 L154.3,257.77 L155.3,257.72 L156.3,257.67 L157.3,257.63 L158.3,257.58 L159.3,257.53 L160.3,257.49 L161.3,257.44 L162.3,257.4 L163.3,257.36 L164.3,257.32 L165.3,257.27 L166.3,257.23 L167.3,257.19 L168.3,257.15 L169.3,257.12 L170.3,257.08 L171.3,257.04 L172.3,257 L173.3,256.96 L174.3,256.93 L175.3,256.89 L176.3,256.86 L177.3,256.82 L178.3,256.79 L179.3,256.75 L180.3,256.72 L181.3,256.69 L182.3,256.65 L183.3,256.62 L184.3,256.59 L185.3,256.56 L186.3,256.53 L187.3,256.5 L188.3,256.47 L189.3,256.43 L190.3,256.4 L191.3,256.37 L192.3,256.35 L193.3,256.32 L194.3,256.29 L195.3,256.26 L196.3,256.23 L197.3,256.2 L198.3,256.17 L199.3,256.15 L200.3,256.12 L201.3,256.09 L202.3,256.06 L203.3,256.04 L204.3,256.01 L205.3,255.98 L206.3,255.96 L207.3,255.93 L208.3,255.91 L209.3,255.88 L210.3,255.86 L211.3,255.83 L212.3,255.8 L213.3,255.78 L214.3,255.75 L215.3,255.73 L216.3,255.7 L217.3,255.68 L218.3,255.66 L219.3,255.63 L220.3,255.61 L221.3,255.58 L222.3,255.56 L223.3,255.54 L224.3,255.51 L225.3,255.49 L226.3,255.46 L227.3,255.44 L228.3,255.42 L229.3,255.39 L230.3,255.37 L231.3,255.35 L232.3,255.32 L233.3,255.3 L234.3,255.28 L235.3,255.25 L236.3,255.23 L237.3,255.21 L238.3,255.18 L239.3,255.16 L240.3,255.14 L241.3,255.12 L242.3,255.09 L243.3,255.07 L244.3,255.05 L245.3,255.03 L246.3,255 L247.3,254.98 L248.3,254.96 L249.3,254.93 L250.3,254.91 L251.3,254.89 L252.3,254.87 L253.3,254.84 L254.3,254.82 L255.3,254.8 L256.3,254.78 L257.3,254.75 L258.3,254.73 L259.3,254.71 L260.3,254.69 L261.3,254.66 L262.3,254.64 L263.3,254.62 L264.3,254.6 L265.3,254.57 L266.3,254.55 L267.3,254.53 L268.3,254.51 L269.3,254.48 L270.3,254.46 L271.3,254.44 L272.3,254.42 L273.3,254.39 L274.3,254.37 L275.3,254.35 L276.3,254.32 L277.3,254.3 L278.3,254.28 L279.3,254.26 L280.3,254.23 L281.3,254.21 L282.3,254.19 L283.3,254.16 L284.3,254.14 L285.3,254.12 L286.3,254.1 L287.3,254.07 L288.3,254.05 L289.3,254.03 L290.3,254 L291.3,253.98 L292.3,253.96 L293.3,253.93 L294.3,253.91 L295.3,253.89 L296.3,253.86 L297.3,253.84 L298.3,253.82 L299.3,253.79 L300.3,253.77 L301.3,253.75 L302.3,253.72 L303.3,253.7 L304.3,253.67 L305.3,253.65 L306.3,253.63 L307.3,253.6 L308.3,253.58 L309.3,253.56 L310.3,253.53 L311.3,253.51 L312.3,253.48 L313.3,253.46 L314.3,253.43 L315.3,253.41 L316.3,253.39 L317.3,253.36 L318.3,253.34 L319.3,253.31 L320.3,253.29 L321.3,253.26 L322.3,253.24 L323.3,253.21" stroke="#ffa64d" stroke-width="1.3" fill="none" stroke-dasharray="9.2 8.5"/>
<path d="M34.3,326.5 L35.3,325.28 L36.3,324.09 L37.3,322.94 L38.3,321.82 L39.3,320.74 L40.3,319.68 L41.3,318.65 L42.3,317.65 L43.3,316.68 L44.3,315.73 L45.3,314.81 L46.3,313.91 L47.3,313.04 L48.3,312.18 L49.3,311.35 L50.3,310.53 L51.3,309.74 L52.3,308.96 L53.3,308.2 L54.3,307.46 L55.3,306.74 L56.3,306.03 L57.3,305.34 L58.3,304.66 L59.3,304 L60.3,303.35 L61.3,302.71 L62.3,302.09 L63.3,301.47 L64.3,300.88 L65.3,300.29 L66.3,299.71 L67.3,299.15 L68.3,298.6 L69.3,298.05 L70.3,297.52 L71.3,297 L72.3,296.49 L73.3,295.98 L74.3,295.49 L75.3,295 L76.3,294.53 L77.3,294.06 L78.3,293.6 L79.3,293.14 L80.3,292.7 L81.3,292.26 L82.3,291.83 L83.3,291.41 L84.3,290.99 L85.3,290.58 L86.3,290.18 L87.3,289.78 L88.3,289.39 L89.3,289.01 L90.3,288.63 L91.3,288.26 L92.3,287.9 L93.3,287.54 L94.3,287.18 L95.3,286.83 L96.3,286.49 L97.3,286.15 L98.3,285.81 L99.3,285.49 L100.3,285.16 L101.3,284.84 L102.3,284.53 L103.3,284.22 L104.3,283.91 L105.3,283.61 L106.3,283.31 L107.3,283.02 L108.3,282.73 L109.3,282.45 L110.3,282.17 L111.3,281.89 L112.3,281.62 L113.3,281.35 L114.3,281.08 L115.3,280.82 L116.3,280.56 L117.3,280.3 L118.3,280.05 L119.3,279.8 L120.3,279.56 L121.3,279.32 L122.3,279.08 L123.3,278.84 L124.3,278.61 L125.3,278.38 L126.3,278.15 L127.3,277.93 L128.3,277.71 L129.3,277.49 L130.3,277.27 L131.3,277.06 L132.3,276.85 L133.3,276.64 L134.3,276.44 L135.3,276.23 L136.3,276.03 L137.3,275.84 L138.3,275.64 L139.3,275.45 L140.3,275.26 L141.3,275.07 L142.3,274.89 L143.3,274.7 L144.3,274.52 L145.3,274.34 L146.3,274.16 L147.3,273.99 L148.3,273.82 L149.3,273.64 L150.3,273.48 L151.3,273.31 L152.3,273.14 L153.3,272.98 L154.3,272.82 L155.3,272.66 L156.3,272.5 L157.3,272.35 L158.3,272.19 L159.3,272.04 L160.3,271.89 L161.3,271.74 L162.3,271.6 L163.3,271.45 L164.3,271.31 L165.3,271.17 L166.3,271.02 L167.3,270.89 L168.3,270.75 L169.3,270.61 L170.3,270.48 L171.3,270.35 L172.3,270.22 L173.3,270.09 L174.3,269.96 L175.3,269.83 L176.3,269.71 L177.3,269.58 L178.3,269.46 L179.3,269.34 L180.3,269.22 L181.3,269.1 L182.3,268.98 L183.3,268.86 L184.3,268.75 L185.3,268.64 L186.3,268.52 L187.3,268.41 L188.3,268.3 L189.3,268.19 L190.3,268.09 L191.3,267.98 L192.3,267.88 L193.3,267.77 L194.3,267.67 L195.3,267.57 L196.3,267.47 L197.3,267.37 L198.3,267.27 L199.3,267.17 L200.3,267.07 L201.3,266.98 L202.3,266.89 L203.3,266.79 L204.3,266.7 L205.3,266.61 L206.3,266.52 L207.3,266.43 L208.3,266.34 L209.3,266.25 L210.3,266.17 L211.3,266.08 L212.3,266 L213.3,265.91 L214.3,265.83 L215.3,265.75 L216.3,265.67 L217.3,265.59 L218.3,265.51 L219.3,265.43 L220.3,265.35 L221.3,265.28 L222.3,265.2 L223.3,265.12 L224.3,265.05 L225.3,264.98 L226.3,264.9 L227.3,264.83 L228.3,264.76 L229.3,264.69 L230.3,264.62 L231.3,264.55 L232.3,264.48 L233.3,264.42 L234.3,264.35 L235.3,264.28 L236.3,264.22 L237.3,264.15 L238.3,264.09 L239.3,264.03 L240.3,263.97 L241.3,263.9 L242.3,263.84 L243.3,263.78 L244.3,263.72 L245.3,263.66 L246.3,263.61 L247.3,263.55 L248.3,263.49 L249.3,263.43 L250.3,263.38 L251.3,263.32 L252.3,263.27 L253.3,263.22 L254.3,263.16 L255.3,263.11 L256.3,263.06 L257.3,263.01 L258.3,262.95 L259.3,262.9 L260.3,262.85 L261.3,262.8 L262.3,262.76 L263.3,262.71 L264.3,262.66 L265.3,262.61 L266.3,262.57 L267.3,262.52 L268.3,262.48 L269.3,262.43 L270.3,262.39 L271.3,262.34 L272.3,262.3 L273.3,262.26 L274.3,262.21 L275.3,262.17 L276.3,262.13 L277.3,262.09 L278.3,262.05 L279.3,262.01 L280.3,261.97 L281.3,261.93 L282.3,261.89 L283.3,261.86 L284.3,261.82 L285.3,261.78 L286.3,261.74 L287.3,261.71 L288.3,261.67 L289.3,261.64 L290.3,261.6 L291.3,261.57 L292.3,261.53 L293.3,261.5 L294.3,261.47 L295.3,261.43 L296.3,261.4 L297.3,261.37 L298.3,261.34 L299.3,261.31 L300.3,261.28 L301.3,261.25 L302.3,261.22 L303.3,261.19 L304.3,261.16 L305.3,261.13 L306.3,261.1 L307.3,261.07 L308.3,261.05 L309.3,261.02 L310.3,260.99 L311.3,260.97 L312.3,260.94 L313.3,260.92 L314.3,260.89 L315.3,260.87 L316.3,260.84 L317.3,260.82 L318.3,260.79 L319.3,260.77 L320.3,260.75 L321.3,260.72 L322.3,260.7 L323.3,260.68" stroke="#b444d4" stroke-width="1.4" fill="none" stroke-dasharray="1.5 1.83"/>
<path d="M34.3,326.5 L35.3,325.28 L36.3,324.1 L37.3,322.95 L38.3,321.83 L39.3,320.75 L40.3,319.7 L41.3,318.68 L42.3,317.68 L43.3,316.72 L44.3,315.77 L45.3,314.85 L46.3,313.96 L47.3,313.08 L48.3,312.23 L49.3,311.4 L50.3,310.59 L51.3,309.79 L52.3,309.02 L53.3,308.26 L54.3,307.52 L55.3,306.79 L56.3,306.09 L57.3,305.39 L58.3,304.71 L59.3,304.05 L60.3,303.39 L61.3,302.75 L62.3,302.13 L63.3,301.51 L64.3,300.91 L65.3,300.32 L66.3,299.74 L67.3,299.17 L68.3,298.61 L69.3,298.06 L70.3,297.53 L71.3,297 L72.3,296.48 L73.3,295.97 L74.3,295.47 L75.3,294.97 L76.3,294.49 L77.3,294.01 L78.3,293.54 L79.3,293.08 L80.3,292.63 L81.3,292.18 L82.3,291.74 L83.3,291.31 L84.3,290.88 L85.3,290.46 L86.3,290.05 L87.3,289.64 L88.3,289.24 L89.3,288.85 L90.3,288.46 L91.3,288.07 L92.3,287.7 L93.3,287.32 L94.3,286.96 L95.3,286.6 L96.3,286.24 L97.3,285.89 L98.3,285.54 L99.3,285.2 L100.3,284.86 L101.3,284.53 L102.3,284.2 L103.3,283.88 L104.3,283.56 L105.3,283.24 L106.3,282.93 L107.3,282.62 L108.3,282.32 L109.3,282.02 L110.3,281.73 L111.3,281.43 L112.3,281.15 L113.3,280.86 L114.3,280.58 L115.3,280.3 L116.3,280.03 L117.3,279.76 L118.3,279.49 L119.3,279.23 L120.3,278.96 L121.3,278.71 L122.3,278.45 L123.3,278.2 L124.3,277.95 L125.3,277.7 L126.3,277.46 L127.3,277.22 L128.3,276.98 L129.3,276.75 L130.3,276.51 L131.3,276.28 L132.3,276.06 L133.3,275.83 L134.3,275.61 L135.3,275.39 L136.3,275.17 L137.3,274.96 L138.3,274.75 L139.3,274.54 L140.3,274.33 L141.3,274.12 L142.3,273.92 L143.3,273.72 L144.3,273.52 L145.3,273.32 L146.3,273.13 L147.3,272.93 L148.3,272.74 L149.3,272.55 L150.3,272.37 L151.3,272.18 L152.3,272 L153.3,271.82 L154.3,271.64 L155.3,271.46 L156.3,271.28 L157.3,271.11 L158.3,270.94 L159.3,270.77 L160.3,270.6 L161.3,270.43 L162.3,270.26 L163.3,270.1 L164.3,269.94 L165.3,269.78 L166.3,269.62 L167.3,269.46 L168.3,269.3 L169.3,269.15 L170.3,268.99 L171.3,268.84 L172.3,268.69 L173.3,268.54 L174.3,268.4 L175.3,268.25 L176.3,268.11 L177.3,267.96 L178.3,267.82 L179.3,267.68 L180.3,267.54 L181.3,267.4 L182.3,267.27 L183.3,267.13 L184.3,267 L185.3,266.86 L186.3,266.73 L187.3,266.6 L188.3,266.47 L189.3,266.34 L190.3,266.21 L191.3,266.09 L192.3,265.96 L193.3,265.84 L194.3,265.72 L195.3,265.6 L196.3,265.48 L197.3,265.36 L198.3,265.24 L199.3,265.12 L200.3,265 L201.3,264.89 L202.3,264.78 L203.3,264.66 L204.3,264.55 L205.3,264.44 L206.3,264.33 L207.3,264.22 L208.3,264.11 L209.3,264 L210.3,263.9 L211.3,263.79 L212.3,263.69 L213.3,263.58 L214.3,263.48 L215.3,263.38 L216.3,263.28 L217.3,263.18 L218.3,263.08 L219.3,262.98 L220.3,262.88 L221.3,262.79 L222.3,262.69 L223.3,262.59 L224.3,262.5 L225.3,262.41 L226.3,262.31 L227.3,262.22 L228.3,262.13 L229.3,262.04 L230.3,261.95 L231.3,261.86 L232.3,261.77 L233.3,261.68 L234.3,261.6 L235.3,261.51 L236.3,261.43 L237.3,261.34 L238.3,261.26 L239.3,261.17 L240.3,261.09 L241.3,261.01 L242.3,260.93 L243.3,260.85 L244.3,260.77 L245.3,260.69 L246.3,260.61 L247.3,260.53 L248.3,260.46 L249.3,260.38 L250.3,260.3 L251.3,260.23 L252.3,260.15 L253.3,260.08 L254.3,260.01 L255.3,259.93 L256.3,259.86 L257.3,259.79 L258.3,259.72 L259.3,259.65 L260.3,259.58 L261.3,259.51 L262.3,259.44 L263.3,259.37 L264.3,259.3 L265.3,259.23 L266.3,259.17 L267.3,259.1 L268.3,259.04 L269.3,258.97 L270.3,258.91 L271.3,258.84 L272.3,258.78 L273.3,258.72 L274.3,258.65 L275.3,258.59 L276.3,258.53 L277.3,258.47 L278.3,258.41 L279.3,258.35 L280.3,258.29 L281.3,258.23 L282.3,258.17 L283.3,258.11 L284.3,258.05 L285.3,258 L286.3,257.94 L287.3,257.88 L288.3,257.83 L289.3,257.77 L290.3,257.72 L291.3,257.66 L292.3,257.61 L293.3,257.56 L294.3,257.5 L295.3,257.45 L296.3,257.4 L297.3,257.34 L298.3,257.29 L299.3,257.24 L300.3,257.19 L301.3,257.14 L302.3,257.09 L303.3,257.04 L304.3,256.99 L305.3,256.94 L306.3,256.9 L307.3,256.85 L308.3,256.8 L309.3,256.75 L310.3,256.71 L311.3,256.66 L312.3,256.61 L313.3,256.57 L314.3,256.52 L315.3,256.48 L316.3,256.43 L317.3,256.39 L318.3,256.35 L319.3,256.3 L320.3,256.26 L321.3,256.22 L322.3,256.17 L323.3,256.13" stroke="#ff2020" stroke-width="1.5" fill="none" stroke-dasharray="4.1 2.3"/>
<path d="M34.3,326.49 L35.3,324.73 L36.3,322.97 L37.3,321.24 L38.3,319.53 L39.3,317.85 L40.3,316.18 L41.3,314.55 L42.3,312.94 L43.3,311.35 L44.3,309.8 L45.3,308.27 L46.3,306.76 L47.3,305.29 L48.3,303.84 L49.3,302.42 L50.3,301.02 L51.3,299.65 L52.3,298.3 L53.3,296.98 L54.3,295.68 L55.3,294.41 L56.3,293.16 L57.3,291.94 L58.3,290.73 L59.3,289.55 L60.3,288.39 L61.3,287.26 L62.3,286.14 L63.3,285.04 L64.3,283.97 L65.3,282.91 L66.3,281.87 L67.3,280.85 L68.3,279.85 L69.3,278.87 L70.3,277.9 L71.3,276.95 L72.3,276.02 L73.3,275.1 L74.3,274.2 L75.3,273.32 L76.3,272.45 L77.3,271.6 L78.3,270.76 L79.3,269.94 L80.3,269.13 L81.3,268.34 L82.3,267.56 L83.3,266.79 L84.3,266.03 L85.3,265.29 L86.3,264.57 L87.3,263.85 L88.3,263.15 L89.3,262.46 L90.3,261.78 L91.3,261.11 L92.3,260.45 L93.3,259.81 L94.3,259.17 L95.3,258.55 L96.3,257.94 L97.3,257.33 L98.3,256.74 L99.3,256.16 L100.3,255.59 L101.3,255.02 L102.3,254.47 L103.3,253.93 L104.3,253.39 L105.3,252.86 L106.3,252.35 L107.3,251.84 L108.3,251.34 L109.3,250.84 L110.3,250.36 L111.3,249.88 L112.3,249.41 L113.3,248.94 L114.3,248.49 L115.3,248.04 L116.3,247.6 L117.3,247.16 L118.3,246.73 L119.3,246.31 L120.3,245.89 L121.3,245.48 L122.3,245.08 L123.3,244.68 L124.3,244.29 L125.3,243.9 L126.3,243.52 L127.3,243.14 L128.3,242.77 L129.3,242.41 L130.3,242.05 L131.3,241.69 L132.3,241.34 L133.3,240.99 L134.3,240.65 L135.3,240.32 L136.3,239.99 L137.3,239.66 L138.3,239.34 L139.3,239.02 L140.3,238.71 L141.3,238.4 L142.3,238.09 L143.3,237.79 L144.3,237.49 L145.3,237.2 L146.3,236.91 L147.3,236.62 L148.3,236.34 L149.3,236.06 L150.3,235.79 L151.3,235.52 L152.3,235.25 L153.3,234.98 L154.3,234.72 L155.3,234.46 L156.3,234.21 L157.3,233.96 L158.3,233.71 L159.3,233.47 L160.3,233.22 L161.3,232.98 L162.3,232.75 L163.3,232.52 L164.3,232.29 L165.3,232.06 L166.3,231.83 L167.3,231.61 L168.3,231.39 L169.3,231.18 L170.3,230.96 L171.3,230.75 L172.3,230.54 L173.3,230.34 L174.3,230.13 L175.3,229.93 L176.3,229.73 L177.3,229.53 L178.3,229.34 L179.3,229.15 L180.3,228.96 L181.3,228.77 L182.3,228.58 L183.3,228.4 L184.3,228.22 L185.3,228.04 L186.3,227.86 L187.3,227.68 L188.3,227.51 L189.3,227.33 L190.3,227.16 L191.3,227 L192.3,226.83 L193.3,226.66 L194.3,226.5 L195.3,226.34 L196.3,226.18 L197.3,226.02 L198.3,225.86 L199.3,225.71 L200.3,225.55 L201.3,225.4 L202.3,225.25 L203.3,225.1 L204.3,224.95 L205.3,224.81 L206.3,224.66 L207.3,224.52 L208.3,224.38 L209.3,224.24 L210.3,224.1 L211.3,223.96 L212.3,223.82 L213.3,223.69 L214.3,223.55 L215.3,223.42 L216.3,223.29 L217.3,223.16 L218.3,223.03 L219.3,222.9 L220.3,222.77 L221.3,222.65 L222.3,222.52 L223.3,222.4 L224.3,222.28 L225.3,222.15 L226.3,222.03 L227.3,221.91 L228.3,221.8 L229.3,221.68 L230.3,221.56 L231.3,221.45 L232.3,221.33 L233.3,221.22 L234.3,221.11 L235.3,220.99 L236.3,220.88 L237.3,220.77 L238.3,220.67 L239.3,220.56 L240.3,220.45 L241.3,220.34 L242.3,220.24 L243.3,220.14 L244.3,220.03 L245.3,219.93 L246.3,219.83 L247.3,219.73 L248.3,219.62 L249.3,219.53 L250.3,219.43 L251.3,219.33 L252.3,219.23 L253.3,219.13 L254.3,219.04 L255.3,218.94 L256.3,218.85 L257.3,218.75 L258.3,218.66 L259.3,218.57 L260.3,218.48 L261.3,218.39 L262.3,218.3 L263.3,218.21 L264.3,218.12 L265.3,218.03 L266.3,217.94 L267.3,217.85 L268.3,217.77 L269.3,217.68 L270.3,217.6 L271.3,217.51 L272.3,217.43 L273.3,217.34 L274.3,217.26 L275.3,217.18 L276.3,217.1 L277.3,217.01 L278.3,216.93 L279.3,216.85 L280.3,216.77 L281.3,216.69 L282.3,216.61 L283.3,216.54 L284.3,216.46 L285.3,216.38 L286.3,216.3 L287.3,216.23 L288.3,216.15 L289.3,216.08 L290.3,216 L291.3,215.93 L292.3,215.85 L293.3,215.78 L294.3,215.71 L295.3,215.63 L296.3,215.56 L297.3,215.49 L298.3,215.42 L299.3,215.35 L300.3,215.28 L301.3,215.21 L302.3,215.14 L303.3,215.07 L304.3,215 L305.3,214.93 L306.3,214.86 L307.3,214.8 L308.3,214.73 L309.3,214.66 L310.3,214.6 L311.3,214.53 L312.3,214.46 L313.3,214.4 L314.3,214.33 L315.3,214.27 L316.3,214.21 L317.3,214.14 L318.3,214.08 L319.3,214.01 L320.3,213.95 L321.3,213.89 L322.3,213.83 L323.3,213.76" stroke="#00f000" stroke-width="1.4" fill="none" stroke-dasharray="5.3 2 1.6 2"/>
<path d="M34.3,370.15 L35.3,367.69 L36.3,365.37 L37.3,363.17 L38.3,361.06 L39.3,359.04 L40.3,357.09 L41.3,355.2 L42.3,353.37 L43.3,351.58 L44.3,349.83 L45.3,348.12 L46.3,346.43 L47.3,344.77 L48.3,343.13 L49.3,341.51 L50.3,339.9 L51.3,338.31 L52.3,336.72 L53.3,335.15 L54.3,333.6 L55.3,332.06 L56.3,330.54 L57.3,329.04 L58.3,327.55 L59.3,326.09 L60.3,324.64 L61.3,323.21 L62.3,321.8 L63.3,320.41 L64.3,319.04 L65.3,317.69 L66.3,316.36 L67.3,315.05 L68.3,313.76 L69.3,312.48 L70.3,311.23 L71.3,310 L72.3,308.78 L73.3,307.59 L74.3,306.41 L75.3,305.25 L76.3,304.11 L77.3,302.98 L78.3,301.87 L79.3,300.78 L80.3,299.71 L81.3,298.65 L82.3,297.6 L83.3,296.57 L84.3,295.55 L85.3,294.55 L86.3,293.56 L87.3,292.59 L88.3,291.63 L89.3,290.68 L90.3,289.74 L91.3,288.82 L92.3,287.91 L93.3,287.01 L94.3,286.12 L95.3,285.24 L96.3,284.37 L97.3,283.52 L98.3,282.67 L99.3,281.84 L100.3,281.02 L101.3,280.2 L102.3,279.4 L103.3,278.6 L104.3,277.82 L105.3,277.04 L106.3,276.28 L107.3,275.52 L108.3,274.77 L109.3,274.03 L110.3,273.3 L111.3,272.57 L112.3,271.86 L113.3,271.15 L114.3,270.45 L115.3,269.76 L116.3,269.07 L117.3,268.4 L118.3,267.73 L119.3,267.06 L120.3,266.41 L121.3,265.76 L122.3,265.12 L123.3,264.48 L124.3,263.86 L125.3,263.23 L126.3,262.62 L127.3,262.01 L128.3,261.41 L129.3,260.81 L130.3,260.22 L131.3,259.64 L132.3,259.06 L133.3,258.48 L134.3,257.92 L135.3,257.35 L136.3,256.8 L137.3,256.25 L138.3,255.7 L139.3,255.16 L140.3,254.63 L141.3,254.1 L142.3,253.58 L143.3,253.06 L144.3,252.55 L145.3,252.04 L146.3,251.54 L147.3,251.04 L148.3,250.54 L149.3,250.06 L150.3,249.57 L151.3,249.1 L152.3,248.62 L153.3,248.16 L154.3,247.69 L155.3,247.23 L156.3,246.78 L157.3,246.33 L158.3,245.88 L159.3,245.44 L160.3,245.01 L161.3,244.58 L162.3,244.15 L163.3,243.73 L164.3,243.31 L165.3,242.89 L166.3,242.48 L167.3,242.08 L168.3,241.68 L169.3,241.28 L170.3,240.89 L171.3,240.5 L172.3,240.11 L173.3,239.73 L174.3,239.35 L175.3,238.98 L176.3,238.61 L177.3,238.24 L178.3,237.88 L179.3,237.52 L180.3,237.17 L181.3,236.82 L182.3,236.47 L183.3,236.13 L184.3,235.79 L185.3,235.45 L186.3,235.12 L187.3,234.79 L188.3,234.46 L189.3,234.14 L190.3,233.82 L191.3,233.5 L192.3,233.19 L193.3,232.88 L194.3,232.57 L195.3,232.27 L196.3,231.97 L197.3,231.68 L198.3,231.38 L199.3,231.09 L200.3,230.81 L201.3,230.52 L202.3,230.24 L203.3,229.96 L204.3,229.69 L205.3,229.42 L206.3,229.15 L207.3,228.88 L208.3,228.62 L209.3,228.36 L210.3,228.1 L211.3,227.85 L212.3,227.6 L213.3,227.35 L214.3,227.1 L215.3,226.86 L216.3,226.62 L217.3,226.38 L218.3,226.14 L219.3,225.91 L220.3,225.68 L221.3,225.45 L222.3,225.22 L223.3,225 L224.3,224.78 L225.3,224.56 L226.3,224.34 L227.3,224.13 L228.3,223.92 L229.3,223.71 L230.3,223.5 L231.3,223.29 L232.3,223.09 L233.3,222.89 L234.3,222.69 L235.3,222.49 L236.3,222.29 L237.3,222.1 L238.3,221.91 L239.3,221.72 L240.3,221.53 L241.3,221.34 L242.3,221.15 L243.3,220.97 L244.3,220.79 L245.3,220.61 L246.3,220.43 L247.3,220.25 L248.3,220.08 L249.3,219.9 L250.3,219.73 L251.3,219.56 L252.3,219.39 L253.3,219.22 L254.3,219.05 L255.3,218.89 L256.3,218.72 L257.3,218.56 L258.3,218.4 L259.3,218.24 L260.3,218.08 L261.3,217.92 L262.3,217.76 L263.3,217.61 L264.3,217.45 L265.3,217.3 L266.3,217.15 L267.3,216.99 L268.3,216.85 L269.3,216.7 L270.3,216.55 L271.3,216.4 L272.3,216.26 L273.3,216.11 L274.3,215.97 L275.3,215.83 L276.3,215.68 L277.3,215.54 L278.3,215.4 L279.3,215.26 L280.3,215.13 L281.3,214.99 L282.3,214.85 L283.3,214.72 L284.3,214.58 L285.3,214.45 L286.3,214.32 L287.3,214.19 L288.3,214.05 L289.3,213.92 L290.3,213.79 L291.3,213.67 L292.3,213.54 L293.3,213.41 L294.3,213.28 L295.3,213.16 L296.3,213.03 L297.3,212.91 L298.3,212.79 L299.3,212.66 L300.3,212.54 L301.3,212.42 L302.3,212.3 L303.3,212.18 L304.3,212.06 L305.3,211.94 L306.3,211.82 L307.3,211.7 L308.3,211.58 L309.3,211.47 L310.3,211.35 L311.3,211.23 L312.3,211.12 L313.3,211 L314.3,210.89 L315.3,210.78 L316.3,210.66 L317.3,210.55 L318.3,210.44 L319.3,210.33 L320.3,210.22 L321.3,210.11 L322.3,210 L323.3,209.89" stroke="#0000ff" stroke-width="1.4" fill="none"/>
</g>
<rect x="34.3" y="9.95" width="289.2" height="173.2" fill="none" stroke="#000" stroke-width="1.15"/>
<rect x="34.3" y="197.4" width="289.2" height="172.75" fill="none" stroke="#000" stroke-width="1.15"/>
<path d="M130.7,9.95 v3 M130.7,183.15 v-3 M130.7,197.4 v3 M227.1,9.95 v3 M227.1,183.15 v-3 M227.1,197.4 v3 M130.7,370.15 v-3 M222.5,370.15 v-3 M34.3,53.25 h3 M323.5,53.25 h-3 M34.3,96.55 h3 M323.5,96.55 h-3 M34.3,139.85 h3 M323.5,139.85 h-3 M34.3,240.59 h3 M323.5,240.59 h-3 M34.3,283.77 h3 M323.5,283.77 h-3 M34.3,326.96 h3 M323.5,326.96 h-3" stroke="#000" stroke-width="1" fill="none"/>
<path d="M92.2,185.3 V287.5" stroke="#9a9a9a" stroke-width="1.25" fill="none"/>
<path d="M92.2,178.6 l-3.1,7.2 h6.2 z" fill="#9a9a9a"/>
<path d="M131.8,105.3 V258.7" stroke="#9a9a9a" stroke-width="1.25" fill="none"/>
<path d="M131.8,97.4 l-3.1,8.4 h6.2 z" fill="#9a9a9a"/>
<path d="M259.5,188.9 V218" stroke="#9a9a9a" stroke-width="1.25" fill="none"/>
<path d="M259.5,182.5 l-3.1,6.9 h6.2 z" fill="#9a9a9a"/>
<text transform="translate(0,14.5) scale(1.1989,1)" x="16.88" font-size="13.6" fill="#000">1</text>
<text transform="translate(0,58.2) scale(1.1741,1)" x="9.45 17.01 20.79" font-size="13.6" fill="#000">0.5</text>
<text transform="translate(0,100.9) scale(1.2159,1)" x="18.64" font-size="13.6" fill="#000">0</text>
<text transform="translate(0,145.2) scale(1.1285,1)" x="5.95 10.42 18.04 21.88" font-size="13.6" fill="#000">-0.5</text>
<text transform="translate(0,185.9) scale(1.1669,1)" x="13.37 17.9" font-size="13.6" fill="#000">-1</text>
<text transform="translate(0,202.3) scale(1.1488,1)" x="16.2 20.73" font-size="13.6" fill="#000">-4</text>
<text transform="translate(0,245) scale(1.1505,1)" x="16.35 20.88" font-size="13.6" fill="#000">-5</text>
<text transform="translate(0,288) scale(1.0464,1)" x="18.24 22.77" font-size="13.6" fill="#000">-6</text>
<text transform="translate(0,331.5) scale(1.1505,1)" x="16.35 20.88" font-size="13.6" fill="#000">-7</text>
<text transform="translate(0,374) scale(1.1370,1)" x="16.64 21.17" font-size="13.6" fill="#000">-8</text>
<text transform="translate(0,385.6) scale(1.2159,1)" x="26.61" font-size="13.6" fill="#000">0</text>
<text transform="translate(0,385.6) scale(1.1928,1)" x="105.97" font-size="13.6" fill="#000">5</text>
<text transform="translate(0,385.4) scale(1.1803,1)" x="185.17 192.73" font-size="13.6" fill="#000">10</text>
<text transform="translate(0,385.4) scale(1.2022,1)" x="261.87 269.44" font-size="13.6" fill="#000">15</text>
<text transform="translate(0,12.1) scale(1.2136,1)" x="0.77 4.9 11.85" font-size="12.6" fill="#000">(a)</text>
<text transform="translate(0,200.5) scale(1.2474,1)" x="0.3 4.47 11.46" font-size="12.6" fill="#000">(b)</text>
<text transform="translate(0,397) scale(1.0372,1)" x="171.77 182.3 185.38" font-size="13" fill="#000">U/J</text>
<text transform="translate(9.5,286.8) rotate(-90) scale(0.9482,1)" x="-1.05 8.31 11.43" font-size="12.5" fill="#000">E/J</text>
<path d="M-0.5,95.0 C1.5,94.8 2.6,95.8 2.5,97.0 C2.4,98.2 1.2,98.8 -0.5,98.7 M2.3,97.4 C3.4,98.6 5.4,99.6 7.3,99.5 C8.9,99.3 9.5,98 9.4,96.6 C9.4,95.6 9.7,95 10.2,94.5 M12.5,95.4 V97.5" stroke="#000" stroke-width="0.95" fill="none"/>
<path d="M12.4,93 H8.6 M12.4,89.7 H9.3 C8,89.7 7.7,90.6 7.9,92.6 M12.4,86.5 H9.3 C8,86.5 7.7,87.4 7.9,89.4" stroke="#000" stroke-width="0.9" fill="none"/>
<text transform="translate(0,209) scale(1.1029,1)" x="45.98 53.98 58.29 66.06 69.47 76.03 77.98" font-size="11.3" fill="#000">U = 3 J</text>
<text transform="translate(0,209) scale(1.1077,1)" x="120.2 128.1 132.31 139.97 143.3 149.77 153.1 159.64 166.11 168" font-size="11.3" fill="#000">U = 5.07 J</text>
<text transform="translate(0,208.5) scale(1.0897,1)" x="238.84 246.75 250.95 258.62 261.95 268.48 274.96 278.28 284.76 286.65" font-size="11.3" fill="#000">U = 11.7 J</text>
<path d="M96.7,338.5 L69,327.3" stroke="#000" stroke-width="1.8" fill="none"/>
<path d="M61.8,324.4 L71.9,324.0 L68.7,331.6 Z" fill="#000"/>
<text transform="translate(0,341.7) scale(1.1420,1)" x="86.72 88.96 94.64 97.26 100.46 102.61 108.2 110.5 113 118.11 121.04 126.84 129.78" font-size="10.3" fill="#111">initial state</text>
<path d="M212.6,292.4 H242.4" stroke="#0000ff" stroke-width="1.4" fill="none"/>
<path d="M244.9,287 V298.2" stroke="#111" stroke-width="0.9"/>
<text x="247.3" y="296.3" font-size="11.2" text-anchor="start" fill="#111" textLength="16.8" lengthAdjust="spacingAndGlyphs" >4,0</text>
<path d="M265.9,287 l2.6,5.6 l-2.6,5.6" stroke="#111" stroke-width="0.9" fill="none"/>
<text x="268.4" y="300.5" font-size="7.6" text-anchor="start" fill="#111" textLength="4.9" lengthAdjust="spacingAndGlyphs" stroke="#111" stroke-width="0.25">A</text>
<circle cx="276.8" cy="292.2" r="3.2" stroke="#111" stroke-width="0.95" fill="none"/>
<path d="M274.55,289.95 l4.5,4.5 M279.05,289.95 l-4.5,4.5" stroke="#111" stroke-width="0.95"/>
<path d="M283.7,287 V298.2" stroke="#111" stroke-width="0.9"/>
<text x="286.1" y="296.3" font-size="11.2" text-anchor="start" fill="#111" textLength="16.8" lengthAdjust="spacingAndGlyphs" >0,0</text>
<path d="M304.6,287 l2.6,5.6 l-2.6,5.6" stroke="#111" stroke-width="0.9" fill="none"/>
<text x="307.3" y="300.5" font-size="7.6" text-anchor="start" fill="#111" textLength="4.7" lengthAdjust="spacingAndGlyphs" stroke="#111" stroke-width="0.25">B</text>
<path d="M212.6,307.9 H242.4" stroke="#ff2020" stroke-width="1.5" fill="none" stroke-dasharray="4.1 2.3"/>
<path d="M244.9,302.5 V313.7" stroke="#111" stroke-width="0.9"/>
<text x="247.3" y="311.8" font-size="11.2" text-anchor="start" fill="#111" textLength="16.8" lengthAdjust="spacingAndGlyphs" >3,0</text>
<path d="M265.9,302.5 l2.6,5.6 l-2.6,5.6" stroke="#111" stroke-width="0.9" fill="none"/>
<text x="268.4" y="316" font-size="7.6" text-anchor="start" fill="#111" textLength="4.9" lengthAdjust="spacingAndGlyphs" stroke="#111" stroke-width="0.25">A</text>
<circle cx="276.8" cy="307.7" r="3.2" stroke="#111" stroke-width="0.95" fill="none"/>
<path d="M274.55,305.45 l4.5,4.5 M279.05,305.45 l-4.5,4.5" stroke="#111" stroke-width="0.95"/>
<path d="M283.7,302.5 V313.7" stroke="#111" stroke-width="0.9"/>
<text x="286.1" y="311.8" font-size="11.2" text-anchor="start" fill="#111" textLength="16.8" lengthAdjust="spacingAndGlyphs" >1,1</text>
<path d="M304.6,302.5 l2.6,5.6 l-2.6,5.6" stroke="#111" stroke-width="0.9" fill="none"/>
<text x="307.3" y="316" font-size="7.6" text-anchor="start" fill="#111" textLength="4.7" lengthAdjust="spacingAndGlyphs" stroke="#111" stroke-width="0.25">B</text>
<path d="M212.6,323.4 H242.4" stroke="#00f000" stroke-width="1.4" fill="none" stroke-dasharray="5.3 2 1.6 2"/>
<path d="M244.9,318 V329.2" stroke="#111" stroke-width="0.9"/>
<text x="247.3" y="327.3" font-size="11.2" text-anchor="start" fill="#111" textLength="16.8" lengthAdjust="spacingAndGlyphs" >3,1</text>
<path d="M265.9,318 l2.6,5.6 l-2.6,5.6" stroke="#111" stroke-width="0.9" fill="none"/>
<text x="268.4" y="331.5" font-size="7.6" text-anchor="start" fill="#111" textLength="4.9" lengthAdjust="spacingAndGlyphs" stroke="#111" stroke-width="0.25">A</text>
<circle cx="276.8" cy="323.2" r="3.2" stroke="#111" stroke-width="0.95" fill="none"/>
<path d="M274.55,320.95 l4.5,4.5 M279.05,320.95 l-4.5,4.5" stroke="#111" stroke-width="0.95"/>
<path d="M283.7,318 V329.2" stroke="#111" stroke-width="0.9"/>
<text x="286.1" y="327.3" font-size="11.2" text-anchor="start" fill="#111" textLength="16.8" lengthAdjust="spacingAndGlyphs" >1,0</text>
<path d="M304.6,318 l2.6,5.6 l-2.6,5.6" stroke="#111" stroke-width="0.9" fill="none"/>
<text x="307.3" y="331.5" font-size="7.6" text-anchor="start" fill="#111" textLength="4.7" lengthAdjust="spacingAndGlyphs" stroke="#111" stroke-width="0.25">B</text>
<path d="M212.6,339 H242.4" stroke="#b444d4" stroke-width="1.4" fill="none" stroke-dasharray="1.5 1.83"/>
<path d="M244.9,333.6 V344.8" stroke="#111" stroke-width="0.9"/>
<text x="247.3" y="342.9" font-size="11.2" text-anchor="start" fill="#111" textLength="16.8" lengthAdjust="spacingAndGlyphs" >2,1</text>
<path d="M265.9,333.6 l2.6,5.6 l-2.6,5.6" stroke="#111" stroke-width="0.9" fill="none"/>
<text x="268.4" y="347.1" font-size="7.6" text-anchor="start" fill="#111" textLength="4.9" lengthAdjust="spacingAndGlyphs" stroke="#111" stroke-width="0.25">A</text>
<circle cx="276.8" cy="338.8" r="3.2" stroke="#111" stroke-width="0.95" fill="none"/>
<path d="M274.55,336.55 l4.5,4.5 M279.05,336.55 l-4.5,4.5" stroke="#111" stroke-width="0.95"/>
<path d="M283.7,333.6 V344.8" stroke="#111" stroke-width="0.9"/>
<text x="286.1" y="342.9" font-size="11.2" text-anchor="start" fill="#111" textLength="16.8" lengthAdjust="spacingAndGlyphs" >2,0</text>
<path d="M304.6,333.6 l2.6,5.6 l-2.6,5.6" stroke="#111" stroke-width="0.9" fill="none"/>
<text x="307.3" y="347.1" font-size="7.6" text-anchor="start" fill="#111" textLength="4.7" lengthAdjust="spacingAndGlyphs" stroke="#111" stroke-width="0.25">B</text>
<path d="M212.6,354.5 H242.4" stroke="#ffa64d" stroke-width="1.3" fill="none" stroke-dasharray="9.2 8.5"/>
<path d="M244.9,349.1 V360.3" stroke="#111" stroke-width="0.9"/>
<text x="247.3" y="358.4" font-size="11.2" text-anchor="start" fill="#111" textLength="16.8" lengthAdjust="spacingAndGlyphs" >2,2</text>
<path d="M265.9,349.1 l2.6,5.6 l-2.6,5.6" stroke="#111" stroke-width="0.9" fill="none"/>
<text x="268.4" y="362.6" font-size="7.6" text-anchor="start" fill="#111" textLength="4.9" lengthAdjust="spacingAndGlyphs" stroke="#111" stroke-width="0.25">A</text>
<circle cx="276.8" cy="354.3" r="3.2" stroke="#111" stroke-width="0.95" fill="none"/>
<path d="M274.55,352.05 l4.5,4.5 M279.05,352.05 l-4.5,4.5" stroke="#111" stroke-width="0.95"/>
<path d="M283.7,349.1 V360.3" stroke="#111" stroke-width="0.9"/>
<text x="286.1" y="358.4" font-size="11.2" text-anchor="start" fill="#111" textLength="16.8" lengthAdjust="spacingAndGlyphs" >2,0</text>
<path d="M304.6,349.1 l2.6,5.6 l-2.6,5.6" stroke="#111" stroke-width="0.9" fill="none"/>
<text x="307.3" y="362.6" font-size="7.6" text-anchor="start" fill="#111" textLength="4.7" lengthAdjust="spacingAndGlyphs" stroke="#111" stroke-width="0.25">B</text>
</svg></body></html>
